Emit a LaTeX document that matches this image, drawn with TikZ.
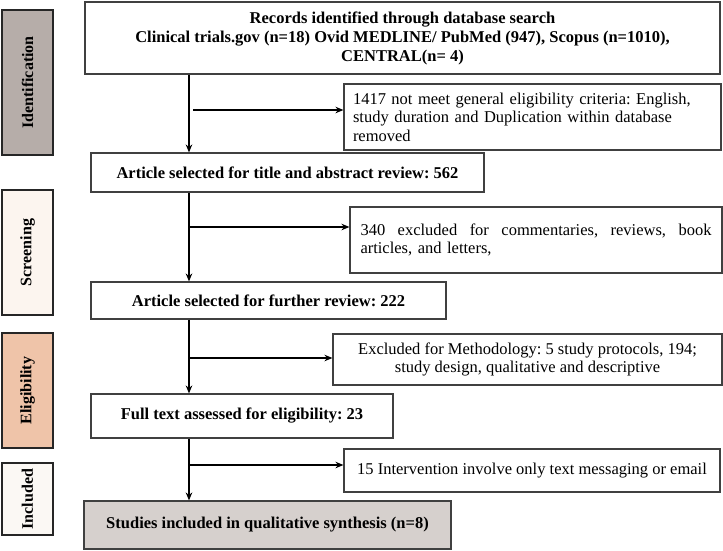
\documentclass[tikz,border=0pt]{standalone}
\usepackage{fontspec}
\setmainfont{Liberation Serif}
\usetikzlibrary{arrows.meta,calc}
\definecolor{identc}{HTML}{B6ADA9}
\definecolor{screenc}{HTML}{FCF5EF}
\definecolor{eligc}{HTML}{EFC4A9}
\definecolor{inclc}{HTML}{FBF8F4}
\definecolor{finalc}{HTML}{D6D0CD}
\definecolor{edgec}{HTML}{404040}
\frenchspacing
\tikzset{
  mainbox/.style={draw=edgec, line width=1.1pt, fill=white, inner sep=0pt,
    font=\fontsize{16.5}{19}\selectfont\bfseries, align=center},
  exbox/.style={draw=edgec, line width=1.1pt, fill=white, inner sep=0pt,
    font=\fontsize{16.5}{18.5}\selectfont},
  sidebox/.style={draw=black!85, line width=1.5pt, inner sep=0pt,
    minimum width=51pt},
  sidetext/.style={rotate=90, font=\fontsize{16}{18}\selectfont\bfseries},
  flow/.style={line width=1.8pt, -{Stealth[length=8pt,width=6.5pt]}},
}
\begin{document}
\begin{tikzpicture}[x=1pt,y=-1pt]
\useasboundingbox (0,0) rectangle (723,550);

% side phase boxes
\node[sidebox, fill=identc, minimum height=145pt] (ident) at (27.5,82.5) {};
\node[sidetext] at (ident.center) {Identification};
\node[sidebox, fill=screenc, minimum height=125pt] (screen) at (27.5,252.5) {};
\node[sidetext] at (screen.center) {Screening};
\node[sidebox, fill=eligc, minimum height=115pt] (elig) at (27.5,390.5) {};
\node[sidetext] at (elig.center) {Eligibility};
\node[sidebox, fill=inclc, minimum height=72pt] (incl) at (27.5,499) {};
\node[sidetext] at (incl.center) {Included};

% main flow boxes
\node[mainbox, minimum width=635pt, minimum height=72pt] (top) at (402.5,38)
  {Records identified through database search\\
   Clinical trials.gov (n=18) Ovid MEDLINE/ PubMed (947), Scopus (n=1010),\\
   CENTRAL(n= 4)};
\node[mainbox, minimum width=393pt, minimum height=39pt] (a2) at (287.5,172.5)
  {Article selected for title and abstract review: 562};
\node[mainbox, minimum width=355pt, minimum height=37pt] (a3) at (268.5,300.5)
  {Article selected for further review: 222};
\node[mainbox, minimum width=302pt, minimum height=44pt] (a4) at (242,416)
  {Full text assessed for eligibility: 23};
\node[mainbox, fill=finalc, minimum width=367pt, minimum height=48pt] (a5) at (267.5,525)
  {Studies included in qualitative synthesis (n=8)};

% exclusion boxes
\node[exbox, minimum width=377pt, minimum height=66pt, text width=359pt, align=left] (ex1) at (532.5,117)
  {1417 not meet general eligibility criteria: English,\\
   study duration and Duplication within database\\
   removed};
\node[exbox, minimum width=372pt, minimum height=66pt, text width=351pt, align=left] (ex2) at (536,240)
  {340\hfill excluded\hfill for\hfill commentaries,\hfill reviews,\hfill book\\
   articles, and letters,\\[8pt]};
\node[exbox, minimum width=389pt, minimum height=51pt, align=center] (ex3) at (527.5,359.5)
  {Excluded for Methodology: 5 study protocols, 194;\\
   study design, qualitative and descriptive};
\node[exbox, minimum width=376pt, minimum height=43pt, align=center] (ex4) at (532,470.5)
  {15 Intervention involve only text messaging or email};

% spine coordinates
\coordinate (sp) at (189,0);
\coordinate (b1) at (189,110);
\coordinate (b2) at (189,227);
\coordinate (b3) at (189,358);
\coordinate (b4) at (189,465);

% vertical arrows
\draw[flow] (top.south -| sp) -- (a2.north -| sp);
\draw[flow] (a2.south -| sp) -- (a3.north -| sp);
\draw[flow] (a3.south -| sp) -- (a4.north -| sp);
\draw[flow] (a4.south -| sp) -- (a5.north -| sp);

% branch arrows
\draw[flow] ([xshift=4pt]b1) -- (b1 -| ex1.west);
\draw[flow] (b2) -- (b2 -| ex2.west);
\draw[flow] (b3) -- (b3 -| ex3.west);
\draw[flow] (b4) -- (b4 -| ex4.west);
\end{tikzpicture}
\end{document}
